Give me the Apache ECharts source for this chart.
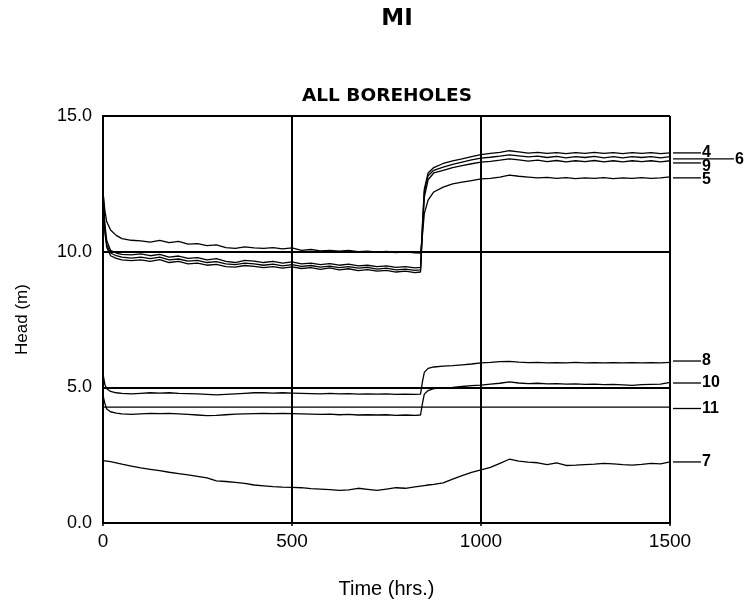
<!DOCTYPE html>
<html>
<head>
<meta charset="utf-8">
<script src="https://cdn.jsdelivr.net/npm/echarts@6/dist/echarts.min.js"></script>
<style>html,body{margin:0;padding:0;background:#fff}#c{width:746px;height:609px}</style>
</head>
<body>
<div id="c"></div>
<script>
// Time axis samples (hrs)
const times = [0,5,10,20,35,50,75,
  100,125,150,175,200,225,250,275,300,325,350,375,400,425,450,475,500,525,550,575,600,625,650,675,700,725,750,775,800,825,
  840,845,850,860,875,
  900,925,950,975,1000,1025,1050,1075,1100,1125,1150,1175,1200,1225,1250,1275,1300,1325,1350,1375,1400,1425,1450,1475,1500];

const bh4 = [12.3,11.0,10.4,10.05,9.95,9.9,9.88,
  9.92,9.85,9.9,9.8,9.84,9.75,9.78,9.7,9.74,9.64,9.6,9.68,9.65,9.6,9.64,9.58,9.62,9.55,9.58,9.52,9.56,9.5,9.54,9.48,9.5,9.45,9.48,9.42,9.45,9.4,
  9.42,11.0,12.3,12.9,13.1,
  13.25,13.35,13.42,13.5,13.58,13.62,13.66,13.72,13.68,13.63,13.66,13.62,13.65,13.61,13.65,13.62,13.66,13.62,13.65,13.61,13.65,13.62,13.65,13.61,13.64];
const bh6 = [12.1,10.8,10.25,9.95,9.85,9.8,9.76,
  9.8,9.74,9.8,9.7,9.73,9.65,9.68,9.6,9.63,9.55,9.52,9.58,9.55,9.5,9.54,9.48,9.52,9.46,9.49,9.43,9.47,9.41,9.45,9.39,9.42,9.36,9.39,9.33,9.36,9.31,
  9.33,10.9,12.2,12.8,13.0,
  13.12,13.22,13.3,13.38,13.45,13.48,13.52,13.57,13.53,13.49,13.52,13.47,13.51,13.46,13.5,13.47,13.51,13.46,13.5,13.46,13.5,13.47,13.5,13.46,13.5];
const bh9 = [12.0,10.7,10.15,9.85,9.75,9.7,9.67,
  9.7,9.64,9.71,9.6,9.64,9.55,9.58,9.5,9.53,9.45,9.43,9.49,9.46,9.41,9.45,9.39,9.44,9.38,9.41,9.35,9.4,9.33,9.37,9.3,9.34,9.28,9.31,9.25,9.28,9.23,
  9.25,10.7,12.0,12.65,12.9,
  13.0,13.1,13.17,13.24,13.3,13.33,13.37,13.42,13.38,13.34,13.37,13.32,13.36,13.31,13.35,13.32,13.36,13.31,13.35,13.31,13.35,13.32,13.35,13.31,13.35];
const bh5 = [12.2,11.5,11.1,10.8,10.6,10.48,10.42,
  10.4,10.35,10.42,10.33,10.38,10.28,10.3,10.22,10.25,10.15,10.12,10.18,10.14,10.12,10.15,10.1,10.14,10.05,10.08,10.03,10.05,10.02,10.05,10.0,10.02,9.98,10.01,9.97,9.99,9.96,
  9.95,10.6,11.4,11.9,12.2,
  12.38,12.5,12.56,12.62,12.68,12.7,12.75,12.82,12.78,12.75,12.72,12.74,12.7,12.73,12.69,12.72,12.7,12.73,12.69,12.72,12.7,12.73,12.7,12.72,12.76];
const bh8 = [5.5,5.1,4.95,4.85,4.8,4.78,4.76,
  4.78,4.8,4.79,4.8,4.78,4.77,4.76,4.74,4.72,4.74,4.76,4.78,4.8,4.8,4.79,4.8,4.79,4.78,4.77,4.76,4.78,4.76,4.77,4.75,4.76,4.75,4.76,4.74,4.75,4.74,
  4.75,5.2,5.55,5.7,5.75,
  5.78,5.8,5.83,5.86,5.9,5.92,5.95,5.96,5.93,5.91,5.92,5.9,5.91,5.9,5.92,5.9,5.91,5.9,5.91,5.9,5.91,5.9,5.91,5.9,5.92];
const bh10 = [4.7,4.4,4.2,4.1,4.05,4.02,4.0,
  4.02,4.04,4.03,4.04,4.02,4.0,3.98,3.96,3.97,3.99,4.01,4.02,4.03,4.04,4.03,4.04,4.03,4.02,4.01,4.0,4.01,3.99,4.0,3.98,3.99,3.98,3.99,3.97,3.98,3.97,
  3.98,4.4,4.75,4.88,4.95,
  4.98,5.0,5.03,5.06,5.08,5.12,5.15,5.2,5.16,5.14,5.15,5.13,5.14,5.12,5.13,5.11,5.12,5.1,5.11,5.09,5.07,5.1,5.11,5.12,5.18];
const bh11 = [4.27,4.27,4.27,4.27,4.27,4.27,4.27,
  4.27,4.27,4.27,4.27,4.27,4.27,4.27,4.27,4.27,4.27,4.27,4.27,4.27,4.27,4.27,4.27,4.27,4.27,4.27,4.27,4.27,4.27,4.27,4.27,4.27,4.27,4.27,4.27,4.27,4.27,
  4.27,4.27,4.27,4.27,4.27,
  4.27,4.27,4.27,4.27,4.27,4.27,4.27,4.27,4.27,4.27,4.27,4.27,4.27,4.27,4.27,4.27,4.27,4.27,4.27,4.27,4.27,4.27,4.27,4.27,4.27];
const bh7 = [2.3,2.29,2.28,2.26,2.22,2.17,2.1,
  2.03,1.98,1.93,1.87,1.82,1.77,1.72,1.66,1.55,1.53,1.5,1.46,1.4,1.37,1.34,1.32,1.31,1.3,1.27,1.25,1.23,1.2,1.22,1.28,1.24,1.2,1.25,1.3,1.28,1.33,
  1.36,1.37,1.38,1.4,1.42,
  1.48,1.62,1.75,1.87,1.96,2.05,2.2,2.35,2.28,2.24,2.22,2.15,2.22,2.12,2.13,2.15,2.17,2.2,2.18,2.15,2.13,2.16,2.2,2.18,2.25];

const seriesNames = ['4','6','9','5','8','10','11','7'];
const seriesValues = [bh4,bh6,bh9,bh5,bh8,bh10,bh11,bh7];

// End labels (value at which each label's leader is drawn)
const labelNames = ['4','6','9','5','8','10','11','7'];
const labelValues = [13.64,13.42,13.27,12.72,5.97,5.16,4.22,2.25];

const chart = echarts.init(document.getElementById('c'));
const lineSeries = seriesValues.map((vals,i)=>({
  name: seriesNames[i], type:'line', showSymbol:false, silent:true,
  data: times.map((t,j)=>[t, vals[j]]),
  lineStyle:{color:'#000', width:1.3}
}));

const labelSeries = {
  type:'custom', silent:true, clip:false,
  data: labelNames.map((n,i)=>[1500, labelValues[i]]),
  renderItem: function(params, api){
    const p = api.coord([api.value(0), api.value(1)]);
    const name = labelNames[params.dataIndex];
    const long = name === '6';
    const x0 = p[0] + 3;
    const x1 = p[0] + (long ? 64 : 31);
    let dy = 0;
    if (name === '9') dy = 4;
    if (name === '5') dy = 2;
    if (name === '6') dy = 1;
    return {
      type:'group',
      children:[
        {type:'line', shape:{x1:x0, y1:p[1], x2:x1, y2:p[1]}, style:{stroke:'#000', lineWidth:1.3}},
        {type:'text', style:{x:x1+1, y:p[1]+dy, text:name, fill:'#000', font:'bold 16px "Liberation Sans", Arial, sans-serif', textVerticalAlign:'middle', textAlign:'left'}}
      ]
    };
  }
};

chart.setOption({
  animation:false,
  backgroundColor:'#fff',
  graphic:[
    {type:'text', left:'center', style:{}, silent:true, invisible:true},
    {type:'text', x:397, y:19, style:{text:'MI', fill:'#000', font:'bold 23px "DejaVu Sans", sans-serif', textAlign:'center', textVerticalAlign:'middle'}},
    {type:'text', x:387, y:96, style:{text:'ALL BOREHOLES', fill:'#000', font:'bold 18.5px "DejaVu Sans", sans-serif', textAlign:'center', textVerticalAlign:'middle'}}
  ],
  grid:{left:103, right:76, top:116, bottom:86},
  xAxis:[{
    type:'value', min:0, max:1500, interval:500,
    name:'Time (hrs.)', nameLocation:'middle', nameGap:56,
    nameTextStyle:{fontFamily:'Liberation Sans', fontSize:20, color:'#000'},
    axisLine:{show:true, lineStyle:{color:'#000', width:2}},
    axisTick:{show:true, length:3, lineStyle:{color:'#000', width:1.5}},
    axisLabel:{fontFamily:'Liberation Sans', fontSize:19, color:'#000', margin:9, formatter:v=>String(v)},
    splitLine:{show:true, lineStyle:{color:'#000', width:2}}
  },{
    type:'value', position:'top', min:0, max:1500,
    axisLine:{show:true,lineStyle:{color:'#000',width:2}}, axisLabel:{show:false}, axisTick:{show:false}, splitLine:{show:false}
  }],
  yAxis:[{
    type:'value', min:0, max:15, interval:5,
    name:'Head (m)', nameLocation:'middle', nameGap:72, nameRotate:90,
    nameTextStyle:{fontFamily:'Liberation Sans', fontSize:17, color:'#000'},
    axisLine:{show:true, lineStyle:{color:'#000', width:2}},
    axisTick:{show:false},
    axisLabel:{fontFamily:'Liberation Sans', fontSize:18, color:'#000', margin:11, formatter:v=>v.toFixed(1)},
    splitLine:{show:true, lineStyle:{color:'#000', width:2}}
  },{
    type:'value', position:'right', min:0, max:15,
    axisLine:{show:true,lineStyle:{color:'#000',width:2}}, axisLabel:{show:false}, axisTick:{show:false}, splitLine:{show:false}
  }],
  series: lineSeries.concat([labelSeries])
});
</script>
</body>
</html>
